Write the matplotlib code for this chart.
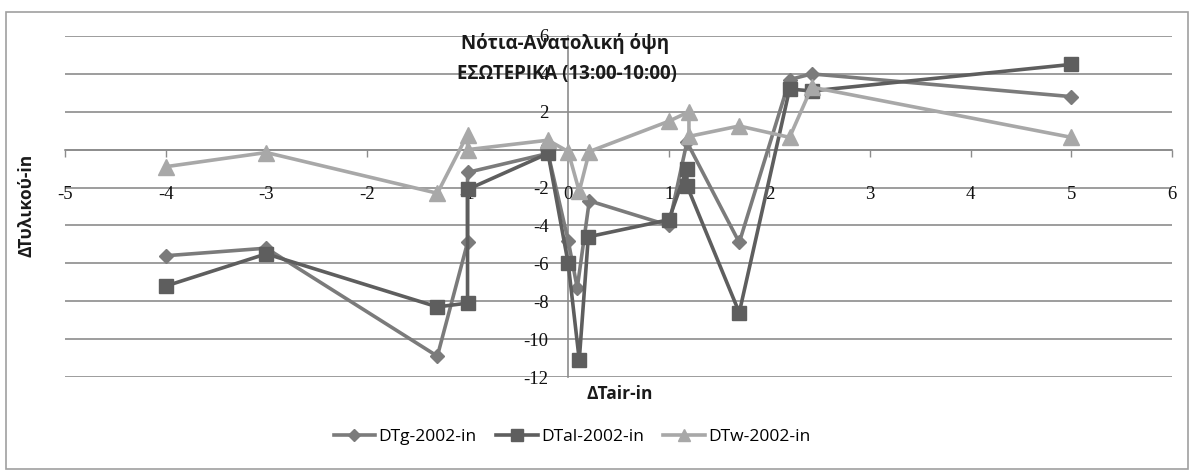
import matplotlib
matplotlib.use("Agg")
import matplotlib.pyplot as plt

# ---- data ----
x_g = [-4.0, -3.0, -1.3, -1.0, -1.0, -0.2, 0.0, 0.09, 0.21, 1.0, 1.18, 1.7, 2.2, 2.42, 5.0]
y_g = [-5.6, -5.2, -10.9, -4.9, -1.2, -0.2, -4.8, -7.3, -2.7, -4.0, 0.4, -4.9, 3.7, 4.0, 2.8]

x_al = [-4.0, -3.0, -1.3, -1.0, -1.0, -0.2, 0.0, 0.11, 0.2, 1.0, 1.18, 1.18, 1.7, 2.2, 2.42, 5.0]
y_al = [-7.2, -5.5, -8.3, -8.1, -2.1, -0.2, -6.0, -11.1, -4.6, -3.7, -1.0, -1.9, -8.6, 3.2, 3.1, 4.5]

x_w = [-4.0, -3.0, -1.3, -1.0, -1.0, -0.2, 0.0, 0.11, 0.21, 1.0, 1.2, 1.2, 1.7, 2.2, 2.42, 5.0]
y_w = [-0.9, -0.15, -2.3, 0.8, 0.0, 0.5, -0.1, -2.2, -0.1, 1.5, 2.0, 0.7, 1.25, 0.65, 3.3, 0.65]

labels = ["DTg-2002-in", "DTal-2002-in", "DTw-2002-in"]
x_ticks = list(range(-5, 7))
y_ticks = list(range(-12, 7, 2))

title_lines = ["Νότια-Ανατολική όψη", "ΕΣΩΤΕΡΙΚΑ (13:00-10:00)"]
xlabel = "ΔTair-in"
ylabel = "ΔΤυλικού-in"

# ---- figure ----
W, H = 1195, 475
fig = plt.figure(figsize=(W / 100, H / 100), dpi=100)
fig.patch.set_facecolor("white")

# outer frame
frame = plt.Rectangle((6 / W, 6 / H), (W - 13) / W, (H - 18) / H, transform=fig.transFigure,
                      fill=False, edgecolor="#a0a0a0", linewidth=1.2)
fig.patches.append(frame)

ax = fig.add_axes([65 / W, 1 - 377 / H, (1172 - 65) / W, (377 - 36) / H])
ax.set_xlim(-5, 6)
ax.set_ylim(-12, 6)
ax.set_facecolor("none")

for yv in y_ticks:
    ax.axhline(yv, color="#8c8c8c", linewidth=1.2, zorder=1)

ax.spines["top"].set_visible(False)
ax.spines["right"].set_visible(False)
ax.spines["left"].set_position(("data", 0))
ax.spines["bottom"].set_position(("data", 0))
for s in ("left", "bottom"):
    ax.spines[s].set_color("#8c8c8c")
    ax.spines[s].set_linewidth(1.2)
    ax.spines[s].set_zorder(1.5)

ax.set_xticks(x_ticks)
ax.set_yticks(y_ticks)
ax.set_xticklabels([str(v) for v in x_ticks])
ax.set_yticklabels([str(v) for v in y_ticks])
ax.tick_params(axis="x", direction="out", length=5, width=1, color="#8c8c8c", pad=21,
               labelsize=13.5, labelcolor="#111111")
ax.tick_params(axis="y", length=0, pad=14, labelsize=13.5, labelcolor="#111111")
for lab in ax.get_xticklabels() + ax.get_yticklabels():
    lab.set_fontfamily("Liberation Serif")
    lab.set_zorder(5)

c_g, c_al, c_w = "#7b7b7b", "#5e5e5e", "#a8a8a8"
ax.plot(x_g, y_g, color=c_g, linewidth=2.6, marker="D", markersize=7.5, label=labels[0], zorder=3)
ax.plot(x_al, y_al, color=c_al, linewidth=2.6, marker="s", markersize=10.5, label=labels[1], zorder=3)
ax.plot(x_w, y_w, color=c_w, linewidth=2.6, marker="^", markersize=11, label=labels[2], zorder=3)

sans = ["Open Sans", "DejaVu Sans"]
fig.text(565 / W, 1 - 43 / H, title_lines[0], ha="center", va="center", fontsize=13.5,
         family=sans, fontweight="bold", color="#1a1a1a", zorder=10)
fig.text(567 / W, 1 - 74 / H, title_lines[1], ha="center", va="center", fontsize=13.5,
         family=sans, fontweight="bold", color="#1a1a1a", zorder=10)

fig.text(620 / W, 1 - 394 / H, xlabel, ha="center", va="center", fontsize=12.5,
         family=sans, fontweight="bold", color="#1a1a1a")
fig.text(27 / W, 1 - 205 / H, ylabel, ha="center", va="center", rotation=90, fontsize=12.5,
         family=sans, fontweight="bold", color="#1a1a1a")

leg = fig.legend(loc="center", bbox_to_anchor=(572 / W, 1 - 437 / H), ncol=3, frameon=False,
                 prop={"family": sans, "size": 12.5}, handlelength=2.4, columnspacing=1.1,
                 handletextpad=0.2, markerscale=0.8)

fig.savefig("out.png", dpi=100, facecolor="white")
